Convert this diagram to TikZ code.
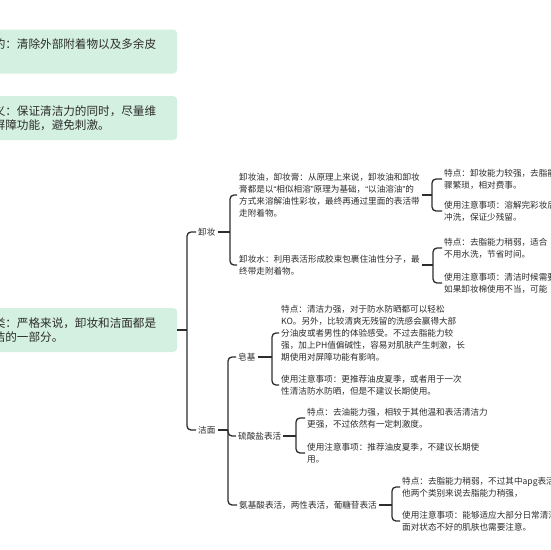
\documentclass[tikz,border=0pt]{standalone}
\usepackage{fontspec}
\setmainfont{Noto Sans CJK SC}
\newfontfamily\quotefont{Liberation Sans}
\newcommand{\qopen}{{\quotefont “}}
\newcommand{\qclose}{{\quotefont ”}}
\definecolor{boxgreen}{RGB}{212,240,224}
\definecolor{ink}{RGB}{45,45,45}
\tikzset{
  topic/.style={fill=boxgreen, rounded corners=4pt, anchor=west, align=left,
    text width=183pt, inner xsep=12pt, inner ysep=0pt, minimum height=44pt,
    font=\fontsize{11.6}{14}\selectfont, text=ink},
  leaf/.style={anchor=west, align=left, inner sep=2pt,
    font=\fontsize{8.6}{12}\selectfont, text=ink},
  link/.style={draw=ink, line width=1.3pt, rounded corners=4pt},
  stub/.style={draw=ink, line width=1.3pt},
}
\begin{document}
\begin{tikzpicture}[x=1pt,y=-1pt]
    \useasboundingbox (0,0) rectangle (550,550);
    \fill[white] (0,0) rectangle (550,550);
    \clip (0,0) rectangle (550,550);

    % Topics
    \node[topic] (aim) at (-30,51.5) {目的：清除外部附着物以及多余皮\\脂。};
    \node[topic] (sense) at (-30,118) {意义：保证清洁力的同时，尽量维\\护屏障功能，避免刺激。};
    \node[topic] (kind) at (-30,330) {分类：严格来说，卸妆和洁面都是\\清洁的一部分。};

    % Branches
    \node[leaf] (mkp) at (196,232) {卸妆};
    \node[leaf] (cln) at (196,430) {洁面};

    \node[leaf] (oil) at (237,195) {卸妆油，卸妆膏：从原理上来说，卸妆油和卸妆\\膏都是以\qopen 相似相溶\qclose 原理为基础，\qopen 以油溶油\qclose 的\\方式来溶解油性彩妆，最终再通过里面的表活带\\走附着物。};
    \node[leaf] (water) at (237,265) {卸妆水：利用表活形成胶束包裹住油性分子，最\\终带走附着物。};

    \node[leaf] (oilA) at (442,179) {特点：卸妆能力较强，去脂能力\\骤繁琐，相对费事。};
    \node[leaf] (oilB) at (442,211) {使用注意事项：溶解完彩妆后\\冲洗，保证少残留。};
    \node[leaf] (waterA) at (442,248) {特点：去脂能力稍弱，适合\\不用水洗，节省时间。};
    \node[leaf] (waterB) at (442,283) {使用注意事项：清洁时候需要\\如果卸妆棉使用不当，可能};

    \node[leaf] (soap) at (236,357) {皂基};
    \node[leaf] (soapA) at (279,333) {特点：清洁力强，对于防水防晒都可以轻松\\KO。另外，比较清爽无残留的洗感会赢得大部\\分油皮或者男性的体验感受。不过去脂能力较\\强，加上PH值偏碱性，容易对肌肤产生刺激，长\\期使用对屏障功能有影响。};
    \node[leaf] (soapB) at (279,385) {使用注意事项：更推荐油皮夏季，或者用于一次\\性清洁防水防晒，但是不建议长期使用。};

    \node[leaf] (sulf) at (236,436) {硫酸盐表活};
    \node[leaf] (sulfA) at (305,418) {特点：去油能力强，相较于其他温和表活清洁力\\更强，不过依然有一定刺激度。};
    \node[leaf] (sulfB) at (305,453) {使用注意事项：推荐油皮夏季，不建议长期使\\用。};

    \node[leaf] (amino) at (237,505) {氨基酸表活，两性表活，葡糖苷表活};
    \node[leaf] (aminoA) at (400,487) {特点：去脂能力稍弱，不过其中apg表活相较于其\\他两个类别来说去脂能力稍强，};
    \node[leaf] (aminoB) at (400,521) {使用注意事项：能够适应大部分日常清洁\\面对状态不好的肌肤也需要注意。};

    % Joints
    \coordinate (jkind) at (187,330);
    \coordinate (jmkp) at (230,232);
    \coordinate (jcln) at (228,430);
    \coordinate (joil) at (432,195);
    \coordinate (jwater) at (433,265);
    \coordinate (jsoap) at (272,357);
    \coordinate (jsulf) at (296,436);
    \coordinate (jamino) at (392,505);

    % Links
    \draw[stub] (kind.east) -- (jkind);
    \draw[link] (jkind) |- (mkp.west);
    \draw[link] (jkind) |- (cln.west);

    \draw[stub] (mkp.east) -- (jmkp);
    \draw[link] (jmkp) |- (oil.west);
    \draw[link] (jmkp) |- (water.west);

    \draw[stub] (oil.east) -- (joil);
    \draw[link] (joil) |- (oilA.west);
    \draw[link] (joil) |- (oilB.west);

    \draw[stub] (water.east) -- (jwater);
    \draw[link] (jwater) |- (waterA.west);
    \draw[link] (jwater) |- (waterB.west);

    \draw[stub] (cln.east) -- (jcln);
    \draw[link] (jcln) |- (soap.west);
    \draw[link] (jcln) |- (sulf.west);
    \draw[link] (jcln) |- (amino.west);

    \draw[stub] (soap.east) -- (jsoap);
    \draw[link] (jsoap) |- (soapA.west);
    \draw[link] (jsoap) |- (soapB.west);

    \draw[stub] (sulf.east) -- (jsulf);
    \draw[link] (jsulf) |- (sulfA.west);
    \draw[link] (jsulf) |- (sulfB.west);

    \draw[stub] (amino.east) -- (jamino);
    \draw[link] (jamino) |- (aminoA.west);
    \draw[link] (jamino) |- (aminoB.west);
\end{tikzpicture}
\end{document}
